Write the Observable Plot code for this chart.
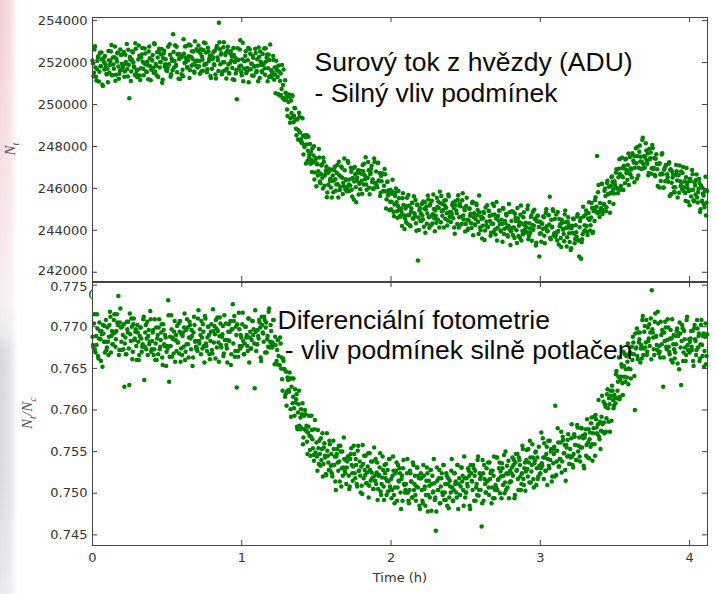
<!DOCTYPE html>
<html>
<head>
<meta charset="utf-8">
<script src="https://cdn.jsdelivr.net/npm/d3@7"></script>
<script src="https://cdn.jsdelivr.net/npm/@observablehq/plot@0.6"></script>
<style>
  html, body { margin: 0; padding: 0; background: #fff; }
  #wrap { position: relative; width: 716px; height: 594px; overflow: hidden; background: #fff; }
  #strip { position: absolute; left: 0; top: 0; width: 18px; height: 594px;
    background: linear-gradient(to bottom, #f0cdd1 0px, #f4dce0 150px, #f7ecee 300px, #ebe8ec 332px, #d7d7dd 352px, #d9d9df 480px, #e8e8ec 594px);
    -webkit-mask-image: linear-gradient(to right, #000 0%, rgba(0,0,0,0.7) 55%, rgba(0,0,0,0) 100%);
    mask-image: linear-gradient(to right, #000 0%, rgba(0,0,0,0.7) 55%, rgba(0,0,0,0) 100%); }
  #top { position: absolute; left: 0; top: 0; }
  #bot { position: absolute; left: 0; top: 281px; }
</style>
</head>
<body>
<div id="wrap">
  <div id="strip"></div>
  <div id="top"></div>
  <div id="bot"></div>
</div>
<script>
// ---------- data ----------
const cadenceH = 1 / 150;               // hours between exposures of one set; set B is offset by half a step
const timeTicks = [0, 1, 2, 3, 4];
const fluxTicks = [244000, 246000, 248000, 250000, 252000, 254000];
const fluxTickLow = [242000];
const ratioTicks = [0.745, 0.750, 0.755, 0.760, 0.765, 0.770];
const ratioTickHigh = [0.775];
const xLabel = "Time (h)";
const topNote = "Surový tok z hvězdy (ADU)\n- Silný vliv podmínek";
const bottomNote = "Diferenciální fotometrie\n\u00A0- vliv podmínek silně potlačen";

// raw flux of the target star N_t (ADU), set A, one array per hour
const rawFluxA_h0 = [
252100,251350,252620,251770,251140,252090,252310,251560,251830,252480,250940,252210,251670,251920,251460,
251700,252550,251520,252070,252840,251390,251910,252260,251130,252180,252440,251810,251470,252620,251660,
252400,251850,251320,252370,251940,251690,252610,250300,252130,251580,252540,252010,251770,252920,251460,
251300,252150,252320,251170,252240,252690,251710,251960,252430,251580,252040,251210,252770,251820,251660,
252100,251750,252920,251570,251840,252490,251310,252660,252030,252380,251040,252210,252570,251920,251660,
251600,252750,251920,252370,251440,252090,253350,251760,252830,251880,251540,252410,252170,251220,252260,
252300,251350,252420,252770,252040,251790,252110,252860,251630,252280,252540,251910,251570,253020,251860,
252100,252550,251820,251470,252640,252290,251610,252960,251930,252480,251540,252710,252070,252320,251260,
251700,252250,251920,252570,251240,252790,252110,253900,252630,252380,251440,252010,252970,251620,252460,
251700,252750,251520,251970,252540,252290,251210,252360,252030,251480,250250,252110,251670,252620,251860];
const rawFluxA_h1 = [
251400,252950,251720,252070,252540,251590,252110,251060,252630,251680,251940,252310,251370,251820,252460,
251600,251850,252720,251270,252040,251590,252410,251960,251730,252680,252240,251110,252370,252120,251360,
251300,251550,252120,251770,250540,251790,251310,251860,250430,251480,250740,250310,251670,250220,250560,
250500,249450,250120,250370,249340,249590,250410,249160,249830,249280,248540,249310,248770,249420,248260,
248200,249350,247620,247970,248440,248090,247310,248460,247630,247180,247340,247910,247570,246420,247360,
246100,247150,246820,247470,246240,247090,246510,247460,246130,246680,247040,245810,246170,246820,246460,
246900,246350,245820,246870,246440,246190,247110,245560,246630,246080,247040,246510,246270,247420,245960,
246400,246050,247220,245870,246140,246790,245610,246960,246330,246680,245340,246510,246870,246220,245960,
246700,245750,246820,247170,246440,246190,246510,247260,246030,246680,246940,246310,245970,247420,246260,
246800,246050,247220,246370,245640,246590,246710,245860,246130,246680,245040,246310,245670,245820,245360];
const rawFluxA_h2 = [
245000,245750,245820,244670,245640,245990,244910,245160,245530,244680,245040,244210,245770,244720,244560,
244400,245550,244720,245170,244240,244890,245310,244560,245630,244680,244340,245210,242560,244020,245060,
244800,245250,244520,244170,245340,244990,244310,245660,244630,245180,244240,245410,244770,245020,243960,
244700,245550,244520,245070,245840,244390,244910,245260,244130,245180,245440,244810,244470,245620,244660,
244400,244750,245320,245070,243840,245190,244810,245460,244130,245280,244640,244310,245770,244520,244960,
244300,245550,244020,244470,245040,244790,244110,245360,244630,244280,244540,245210,244970,243820,244860,
244000,244550,244220,244870,243540,245090,244410,244160,244930,244680,243740,244310,245270,243920,244760,
243800,245350,244120,244470,244940,243990,244510,243460,245030,244080,244340,244710,243770,244220,244860,
243300,244450,244120,244870,243640,244590,244010,245060,243730,244380,244740,243510,243970,244620,244260,
243900,244150,245020,243570,244340,243890,244710,244260,244030,244980,244540,243410,244670,244420,242750];
const rawFluxA_h3 = [
244400,243450,244320,244670,243740,244090,245010,243960,244730,244280,243640,244510,244170,244920,243860,
243700,244750,243520,243970,244540,244290,243210,244360,244030,243480,244940,244110,243670,244620,243860,
244100,243150,244220,244570,243840,243590,243910,244660,243530,242750,244440,242650,243570,245120,243960,
244000,244950,243920,244570,245340,243990,244610,245060,243930,245080,245440,244910,247550,245820,244860,
245300,245050,246220,244970,245240,245990,244910,246260,245730,246080,244840,246110,246570,245920,245760,
246200,246750,246020,245770,246940,246690,246110,247460,246530,247080,246240,247410,246870,247120,246160,
247500,246950,246520,247570,247240,246990,247910,246460,247530,246980,248040,247510,247270,248420,246960,
247000,248150,247320,247670,246740,247390,247710,246960,247930,246980,246640,247410,247170,246120,247160,
247200,246350,247620,246670,246040,246990,247110,246360,246530,247180,245640,246910,246270,246520,246060,
245800,246650,246820,245570,246640,247090,246110,246260,246730,245880,246340,245410,246970,246020,245860];
const rawFluxA_h4 = [
245200,246350,245920,246670,245440,246290,245710,246660,245330,245980,246240,245010,245370,246020,245660,
245100,246550,245320];

// raw flux, set B (exposures half a step later)
const rawFluxB_h0 = [
251960,251510,252780,251330,251690,252240,251100,252470,251820,252150,250880,252030,252310,251760,251440,
251060,252110,251880,252530,251390,252240,251700,252770,251420,252050,252480,251230,251610,252360,251940,
251760,252510,251580,252030,252890,251340,251900,252270,251120,252150,252480,251830,251410,252660,251640,
251660,252810,251380,251730,252390,252040,251400,252670,251920,251550,251880,252530,252210,251160,252140,
252360,251510,252880,251930,251390,252240,252500,251770,252020,252650,251180,252430,251810,252160,251640,
251760,251910,252880,251330,252190,251640,252500,252070,251820,252750,252380,251230,252410,252260,251440,
251660,253110,251980,252230,252790,251740,252300,251270,252820,251850,252180,252530,251510,252060,252640,
251760,252810,252080,252430,251590,252140,252600,251870,252920,251950,251680,252530,252210,251360,252340,
252160,252510,251880,251430,252690,252240,251600,252970,251920,252450,251580,252730,252010,252360,251240,
252560,251910,251480,252430,252090,251740,252700,251170,252220,251650,252680,252130,251810,253060,251540];
const rawFluxB_h1 = [
252160,251110,252080,252330,251490,251740,252700,251670,252420,251950,251380,252230,251810,252660,251540,
252160,251110,252280,252530,251890,251540,251900,252670,251420,252050,252380,251730,251310,252860,251640,
251460,252310,251180,251430,252090,251640,250500,251570,251120,250450,251880,250930,250310,251160,250240,
249760,250410,250480,249130,250190,250440,249400,249470,249820,248850,249280,248330,249610,248660,248340,
248160,248510,248080,248530,247190,248540,247800,247470,248120,247750,246780,247230,248010,246760,247440,
247160,246610,247880,246330,246690,247140,246000,247270,246620,246850,245580,246730,246910,246360,246040,
245560,246610,246380,247030,245890,246740,246200,247270,245920,246550,246980,245730,246110,246860,246440,
245860,247310,246180,246430,246990,245940,246500,245470,247020,246050,246380,246730,245710,246260,246840,
246360,247110,246180,246630,247490,245940,246500,246870,245720,246750,247080,246430,246010,247260,246240,
246160,247210,246380,246730,245790,246340,246700,245870,246920,245850,245480,246330,245910,244960,245940];
const rawFluxB_h2 = [
245360,246410,244880,245230,245790,245340,244600,245870,245020,244650,244880,245530,245210,244060,245040,
245160,244310,245680,244730,244190,245040,245300,244570,244820,245450,243980,245230,244610,244960,244440,
244460,244710,245380,245030,243890,245140,244800,245470,244120,245250,244680,244330,245710,244560,244940,
244360,245110,245380,244130,245290,245640,244700,244970,245420,244550,245080,244230,245710,244860,244640,
244860,245210,244580,244130,245390,244940,244300,245670,244620,245150,244280,245430,244710,245060,243940,
245160,244510,244080,245030,244690,244340,245300,243770,244820,244250,245280,244730,244410,245660,244140,
244660,243610,244580,244830,243990,244240,245200,244170,244920,244450,243880,244730,244310,245160,244040,
244560,243510,244680,244930,244290,243940,244300,245070,243820,244450,244780,244130,243710,245260,244040,
243960,244910,243780,244130,244790,244440,243400,244570,244220,243650,245180,244330,243810,244860,244040,
244360,243910,245180,243730,244090,244640,243500,244870,244220,244550,243280,244430,244710,244160,243840];
const rawFluxB_h3 = [
243860,244310,244080,244630,243390,244840,244200,243970,244720,245600,243580,244130,245010,243760,244540,
243760,243910,244880,243330,244190,243640,244500,244070,243820,244750,244380,243230,244410,244260,243440,
243060,244110,243880,244530,243390,244240,243700,244770,243520,244150,244580,243430,243810,244660,244240,
244760,244210,243780,244830,244490,244240,245300,243870,244920,244450,245580,245130,244810,246160,244640,
244960,246210,244780,245230,245890,245640,245100,246370,245720,245350,245780,246530,246310,245260,246340,
246060,246910,245980,246530,247390,245940,246600,246970,245920,246950,247380,246730,246410,247660,246740,
246660,246910,247680,247330,246290,247540,247200,247970,246620,247750,247280,246930,248310,247160,247540,
247460,247810,247180,246630,247890,247440,246700,248070,246920,247450,246580,247630,246910,247160,246040,
246660,246710,247680,246030,246890,246340,247100,246670,246320,247250,246880,245730,246810,246660,245840,
246060,247110,246380,246630,245790,246340,246800,245970,247020,246050,245780,246530,246210,245360,246340];
const rawFluxB_h4 = [
246460,245610,246880,245930,245390,246140,246400,245570,245820,246450,244880,246130,245410,245760,245240,
245860,244710,245880];

// differential flux N_t / N_c, set A
const ratioA_h0 = [
.7688,.7675,.7715,.7669,.7678,.7698,.7662,.7705,.7685,.7695,.7652,.7692,.7701,.7682,.7672,
.7699,.7666,.7702,.7712,.7689,.7679,.7692,.7715,.7676,.7695,.7705,.7737,.7672,.7722,.7682,
.7700,.7673,.7628,.7687,.7667,.7697,.7706,.7630,.7691,.7710,.7661,.7703,.7684,.7694,.7677,
.7702,.7682,.7666,.7699,.7686,.7676,.7709,.7636,.7693,.7673,.7706,.7689,.7679,.7719,.7670,
.7683,.7696,.7673,.7660,.7699,.7686,.7667,.7709,.7676,.7693,.7663,.7703,.7679,.7690,.7653,
.7677,.7732,.7634,.7688,.7714,.7664,.7685,.7694,.7658,.7690,.7701,.7681,.7668,.7707,.7674,
.7666,.7693,.7699,.7660,.7696,.7709,.7679,.7687,.7702,.7673,.7689,.7663,.7712,.7682,.7676,
.7674,.7710,.7683,.7697,.7667,.7687,.7703,.7677,.7713,.7680,.7671,.7700,.7690,.7661,.7694,
.7672,.7721,.7681,.7691,.7708,.7675,.7695,.7658,.7711,.7678,.7688,.7701,.7668,.7684,.7704,
.7674,.7684,.7703,.7694,.7654,.7697,.7727,.7707,.7664,.7700,.7627,.7671,.7717,.7677,.7690];
const ratioA_h1 = [
.7677,.7717,.7667,.7680,.7700,.7690,.7671,.7710,.7687,.7674,.7684,.7707,.7697,.7626,.7694,
.7679,.7696,.7686,.7705,.7663,.7712,.7693,.7682,.7708,.7699,.7669,.7689,.7718,.7675,.7702,
.7678,.7681,.7708,.7655,.7678,.7659,.7684,.7665,.7654,.7680,.7663,.7623,.7659,.7649,.7619,
.7605,.7639,.7624,.7645,.7601,.7628,.7608,.7638,.7593,.7609,.7619,.7577,.7607,.7581,.7591,
.7578,.7608,.7567,.7577,.7595,.7581,.7547,.7580,.7569,.7545,.7593,.7565,.7546,.7577,.7549,
.7561,.7527,.7554,.7563,.7533,.7540,.7572,.7535,.7560,.7543,.7522,.7551,.7537,.7563,.7527,
.7547,.7520,.7563,.7534,.7514,.7544,.7553,.7527,.7538,.7557,.7508,.7550,.7531,.7541,.7524,
.7511,.7538,.7544,.7505,.7541,.7554,.7524,.7532,.7547,.7518,.7534,.7508,.7557,.7527,.7521,
.7532,.7499,.7535,.7545,.7522,.7512,.7525,.7548,.7509,.7528,.7538,.7518,.7505,.7555,.7515,
.7511,.7537,.7505,.7522,.7548,.7498,.7519,.7528,.7492,.7524,.7535,.7515,.7502,.7541,.7508];
const ratioA_h2 = [
.7517,.7504,.7544,.7498,.7507,.7527,.7491,.7534,.7514,.7524,.7481,.7521,.7530,.7511,.7501,
.7511,.7524,.7501,.7488,.7527,.7514,.7495,.7537,.7504,.7521,.7491,.7531,.7507,.7518,.7481,
.7524,.7504,.7488,.7521,.7508,.7498,.7531,.7478,.7515,.7495,.7528,.7511,.7501,.7541,.7492,
.7455,.7531,.7504,.7518,.7488,.7508,.7524,.7498,.7534,.7501,.7492,.7521,.7511,.7482,.7515,
.7501,.7541,.7491,.7504,.7524,.7514,.7495,.7534,.7511,.7498,.7508,.7531,.7521,.7485,.7518,
.7501,.7518,.7508,.7527,.7485,.7534,.7515,.7504,.7530,.7521,.7491,.7511,.7540,.7497,.7524,
.7504,.7460,.7540,.7491,.7517,.7501,.7530,.7515,.7507,.7537,.7524,.7488,.7527,.7521,.7494,
.7510,.7543,.7504,.7517,.7537,.7526,.7494,.7530,.7521,.7500,.7550,.7524,.7507,.7539,.7513,
.7514,.7524,.7543,.7534,.7494,.7537,.7527,.7547,.7504,.7540,.7520,.7511,.7557,.7517,.7530,
.7503,.7540,.7529,.7553,.7513,.7543,.7526,.7559,.7517,.7536,.7549,.7510,.7543,.7520,.7533];
const ratioA_h3 = [
.7524,.7573,.7533,.7543,.7560,.7527,.7547,.7510,.7563,.7530,.7540,.7553,.7520,.7536,.7556,
.7605,.7522,.7551,.7561,.7532,.7541,.7574,.7538,.7564,.7548,.7528,.7558,.7544,.7571,.7535,
.7553,.7566,.7544,.7531,.7571,.7558,.7540,.7582,.7550,.7567,.7538,.7578,.7555,.7566,.7530,
.7571,.7545,.7589,.7561,.7542,.7573,.7584,.7559,.7572,.7592,.7545,.7589,.7572,.7583,.7568,
.7586,.7575,.7617,.7574,.7585,.7607,.7574,.7619,.7602,.7614,.7574,.7617,.7629,.7612,.7605,
.7614,.7643,.7614,.7634,.7663,.7616,.7640,.7652,.7618,.7653,.7667,.7649,.7639,.7680,.7650,
.7669,.7638,.7676,.7688,.7667,.7600,.7674,.7698,.7661,.7681,.7693,.7674,.7662,.7713,.7674,
.7701,.7681,.7666,.7699,.7686,.7677,.7710,.7744,.7693,.7673,.7706,.7688,.7678,.7718,.7668,
.7670,.7706,.7679,.7693,.7663,.7683,.7699,.7673,.7709,.7676,.7667,.7696,.7686,.7657,.7690,
.7662,.7689,.7695,.7656,.7692,.7705,.7675,.7683,.7698,.7669,.7685,.7659,.7708,.7678,.7672];
const ratioA_h4 = [
.7669,.7686,.7676,.7695,.7653,.7702,.7683,.7672,.7698,.7689,.7659,.7679,.7708,.7665,.7692,
.7671,.7704,.7665];

// differential flux, set B
const ratioB_h0 = [
.7678,.7704,.7672,.7689,.7715,.7665,.7686,.7695,.7659,.7691,.7702,.7682,.7669,.7708,.7675,
.7682,.7688,.7718,.7669,.7695,.7679,.7708,.7693,.7685,.7715,.7702,.7666,.7705,.7699,.7672,
.7690,.7703,.7680,.7667,.7706,.7693,.7674,.7716,.7683,.7700,.7670,.7710,.7686,.7697,.7660,
.7693,.7660,.7689,.7699,.7670,.7679,.7712,.7676,.7702,.7686,.7666,.7696,.7682,.7709,.7673,
.7693,.7666,.7709,.7680,.7660,.7690,.7699,.7673,.7684,.7703,.7654,.7696,.7677,.7687,.7670,
.7674,.7714,.7664,.7677,.7697,.7687,.7668,.7707,.7684,.7671,.7681,.7704,.7694,.7658,.7691,
.7689,.7676,.7716,.7670,.7679,.7699,.7663,.7706,.7686,.7696,.7653,.7693,.7702,.7683,.7673,
.7671,.7720,.7680,.7690,.7707,.7674,.7694,.7657,.7710,.7677,.7687,.7700,.7667,.7683,.7703,
.7668,.7695,.7701,.7662,.7698,.7711,.7681,.7689,.7704,.7675,.7691,.7665,.7714,.7684,.7678,
.7657,.7694,.7683,.7707,.7667,.7697,.7680,.7713,.7671,.7690,.7703,.7664,.7697,.7674,.7687];
const ratioB_h1 = [
.7703,.7683,.7667,.7700,.7687,.7677,.7710,.7657,.7694,.7674,.7707,.7690,.7680,.7720,.7671,
.7679,.7689,.7708,.7699,.7659,.7702,.7692,.7712,.7669,.7705,.7685,.7676,.7722,.7682,.7695,
.7675,.7708,.7678,.7688,.7655,.7672,.7684,.7654,.7687,.7650,.7637,.7662,.7649,.7616,.7646,
.7622,.7636,.7622,.7638,.7592,.7638,.7616,.7602,.7625,.7613,.7580,.7597,.7623,.7577,.7601,
.7595,.7559,.7593,.7600,.7575,.7562,.7573,.7593,.7552,.7568,.7576,.7554,.7539,.7588,.7546,
.7544,.7576,.7535,.7547,.7566,.7553,.7520,.7555,.7545,.7523,.7572,.7545,.7528,.7559,.7533,
.7524,.7534,.7553,.7544,.7504,.7547,.7537,.7557,.7514,.7550,.7530,.7521,.7567,.7527,.7540,
.7531,.7544,.7521,.7508,.7547,.7534,.7515,.7557,.7524,.7541,.7511,.7551,.7527,.7538,.7501,
.7509,.7558,.7518,.7528,.7545,.7512,.7532,.7495,.7548,.7515,.7525,.7538,.7505,.7521,.7541,
.7525,.7492,.7521,.7531,.7502,.7511,.7544,.7508,.7534,.7518,.7498,.7528,.7514,.7541,.7505];
const ratioB_h2 = [
.7494,.7521,.7527,.7488,.7524,.7537,.7507,.7515,.7530,.7501,.7517,.7491,.7540,.7510,.7504,
.7501,.7541,.7491,.7504,.7524,.7514,.7495,.7534,.7511,.7498,.7508,.7531,.7521,.7485,.7518,
.7518,.7491,.7534,.7505,.7485,.7515,.7524,.7498,.7509,.7528,.7479,.7521,.7502,.7512,.7495,
.7478,.7515,.7504,.7528,.7488,.7518,.7501,.7534,.7492,.7511,.7524,.7485,.7518,.7495,.7508,
.7527,.7507,.7491,.7524,.7511,.7501,.7534,.7481,.7518,.7498,.7531,.7514,.7504,.7544,.7495,
.7501,.7511,.7530,.7521,.7481,.7524,.7514,.7534,.7491,.7527,.7507,.7498,.7544,.7504,.7517,
.7521,.7488,.7524,.7534,.7511,.7501,.7514,.7537,.7498,.7517,.7527,.7507,.7494,.7544,.7504,
.7507,.7543,.7516,.7530,.7500,.7520,.7536,.7510,.7546,.7513,.7504,.7533,.7523,.7494,.7527,
.7514,.7531,.7521,.7540,.7498,.7547,.7528,.7517,.7543,.7534,.7504,.7524,.7553,.7510,.7537,
.7526,.7552,.7520,.7537,.7563,.7513,.7534,.7543,.7507,.7539,.7550,.7530,.7517,.7556,.7523];
const ratioB_h3 = [
.7530,.7536,.7566,.7517,.7543,.7527,.7556,.7541,.7533,.7563,.7550,.7514,.7553,.7547,.7520,
.7551,.7538,.7578,.7532,.7541,.7561,.7525,.7568,.7548,.7558,.7515,.7555,.7564,.7545,.7535,
.7543,.7583,.7534,.7547,.7568,.7558,.7540,.7579,.7557,.7544,.7555,.7578,.7569,.7533,.7567,
.7577,.7558,.7543,.7577,.7565,.7556,.7591,.7539,.7578,.7559,.7594,.7579,.7571,.7612,.7565,
.7553,.7592,.7583,.7610,.7572,.7604,.7590,.7625,.7586,.7607,.7623,.7587,.7623,.7602,.7618,
.7608,.7647,.7623,.7640,.7613,.7636,.7655,.7632,.7670,.7640,.7634,.7665,.7658,.7631,.7667,
.7649,.7668,.7660,.7681,.7641,.7692,.7675,.7665,.7693,.7685,.7657,.7678,.7708,.7666,.7694,
.7675,.7708,.7670,.7683,.7703,.7693,.7661,.7697,.7687,.7666,.7716,.7689,.7672,.7704,.7677,
.7663,.7690,.7696,.7628,.7693,.7706,.7676,.7684,.7699,.7670,.7686,.7660,.7709,.7679,.7673,
.7669,.7679,.7698,.7689,.7649,.7692,.7630,.7702,.7659,.7695,.7675,.7666,.7712,.7672,.7685];
const ratioB_h4 = [
.7682,.7695,.7672,.7659,.7698,.7685,.7666,.7708,.7675,.7692,.7662,.7702,.7678,.7689,.7652,
.7688,.7655,.7691];

// ---------- build tables ----------
function byHourToRows(hours, phase) {
  return hours.flatMap((vals, h) => vals.map((v, i) => ({t: h + (i + phase) * cadenceH, v})));
}
const fluxRows = byHourToRows([rawFluxA_h0, rawFluxA_h1, rawFluxA_h2, rawFluxA_h3, rawFluxA_h4], 0)
  .concat(byHourToRows([rawFluxB_h0, rawFluxB_h1, rawFluxB_h2, rawFluxB_h3, rawFluxB_h4], 0.5));
const ratioRows = byHourToRows([ratioA_h0, ratioA_h1, ratioA_h2, ratioA_h3, ratioA_h4], 0)
  .concat(byHourToRows([ratioB_h0, ratioB_h1, ratioB_h2, ratioB_h3, ratioB_h4], 0.5));
const allFluxTicks = fluxTickLow.concat(fluxTicks);
const allRatioTicks = ratioTicks.concat(ratioTickHigh);

// ---------- layout ----------
const W = 716, ML = 92, MR = 9;
const plotW = W - ML - MR;
const TICK = 5;
const green = "#008000";
const axisCol = "#444";
const textFont = "'Liberation Sans', Arial, sans-serif";
const baseStyle = {fontFamily: "'DejaVu Sans', sans-serif", fontSize: "13px", color: "#333", background: "transparent", overflow: "visible"};

// top panel
const topH = 300, topMT = 17, topMB = 19;
const topFrameH = topH - topMT - topMB;
const topPlot = Plot.plot({
  width: W, height: topH,
  marginLeft: ML, marginRight: MR, marginTop: topMT, marginBottom: topMB,
  style: baseStyle,
  x: {domain: [0, 4.12]},
  y: {domain: [241560, 254150]},
  marks: [
    Plot.dot(fluxRows, {x: "t", y: "v", r: 2.25, fill: green}),
    Plot.tickY(allFluxTicks, {y: d => d, insetRight: plotW - TICK, stroke: axisCol}),
    Plot.tickY(allFluxTicks, {y: d => d, insetLeft: plotW - TICK, stroke: axisCol}),
    Plot.tickX(timeTicks, {x: d => d, insetBottom: topFrameH - TICK, stroke: axisCol}),
    Plot.tickX(timeTicks, {x: d => d, insetTop: topFrameH - TICK, stroke: axisCol}),
    Plot.frame({stroke: axisCol}),
    Plot.axisY(fluxTicks, {tickSize: 0, tickPadding: 5, tickFormat: d3.format("d"), label: null}),
    Plot.axisY(fluxTickLow, {tickSize: 0, tickPadding: 5, tickFormat: d3.format("d"), label: null, dy: -1.3}),
    Plot.axisX([0], {tickSize: 0, tickPadding: 8, tickFormat: d3.format("d"), label: null}),
    Plot.text([topNote], {frameAnchor: "top-left", dx: 222, dy: 31, textAnchor: "start", lineAnchor: "top",
      lineHeight: 1.17, fontSize: 26.5, fontFamily: textFont, fill: "#0a0a0a"})
  ]
});

// bottom panel
const botH = 313, botMT = 1, botMB = 49;
const botFrameH = botH - botMT - botMB;
const botPlot = Plot.plot({
  width: W, height: botH,
  marginLeft: ML, marginRight: MR, marginTop: botMT, marginBottom: botMB,
  style: baseStyle,
  x: {domain: [0, 4.12]},
  y: {domain: [0.74372, 0.77532]},
  marks: [
    Plot.frame({fill: "white", stroke: "none"}),
    Plot.dot(ratioRows, {x: "t", y: "v", r: 2.25, fill: green}),
    Plot.tickY(allRatioTicks, {y: d => d, insetRight: plotW - TICK, stroke: axisCol}),
    Plot.tickY(allRatioTicks, {y: d => d, insetLeft: plotW - TICK, stroke: axisCol}),
    Plot.tickX(timeTicks, {x: d => d, insetBottom: botFrameH - TICK, stroke: axisCol}),
    Plot.tickX(timeTicks, {x: d => d, insetTop: botFrameH - TICK, stroke: axisCol}),
    Plot.frame({stroke: axisCol}),
    Plot.axisY(ratioTicks, {tickSize: 0, tickPadding: 5, tickFormat: d3.format(".3f"), label: null}),
    Plot.axisY(ratioTickHigh, {tickSize: 0, tickPadding: 5, tickFormat: d3.format(".3f"), label: null, dy: 1.3}),
    Plot.axisX(timeTicks, {tickSize: 0, tickPadding: 7, tickFormat: d3.format("d"), label: null}),
    Plot.text([xLabel], {frameAnchor: "bottom", dy: 32, lineAnchor: "middle", fill: "#333"}),
    Plot.text([bottomNote], {frameAnchor: "top-left", dx: 185, dy: 25, textAnchor: "start", lineAnchor: "top",
      lineHeight: 1.13, fontSize: 26.5, fontFamily: textFont, fill: "#0a0a0a"})
  ]
});

// math-style y labels (italic N with subscripts)
function mathLabel(svg, cx, cy, pieces) {
  const t = d3.select(svg).append("text")
    .attr("transform", `translate(${cx},${cy}) rotate(-90)`)
    .attr("text-anchor", "middle")
    .attr("font-family", "'Liberation Serif', 'DejaVu Serif', serif")
    .attr("font-style", "italic")
    .attr("fill", "#555")
    .attr("dy", "0.35em");
  let shift = 0;
  for (const [s, sub] of pieces) {
    const target = sub ? 3.5 : 0;
    t.append("tspan").attr("font-size", sub ? 10.5 : 15).attr("dy", target - shift).text(s);
    shift = target;
  }
}
mathLabel(topPlot, 15, 149, [["N", 0], ["t", 1]]);
mathLabel(botPlot, 32, 132, [["N", 0], ["t", 1], ["/N", 0], ["c", 1]]);

document.getElementById("top").appendChild(topPlot);
document.getElementById("bot").appendChild(botPlot);
</script>
</body>
</html>
